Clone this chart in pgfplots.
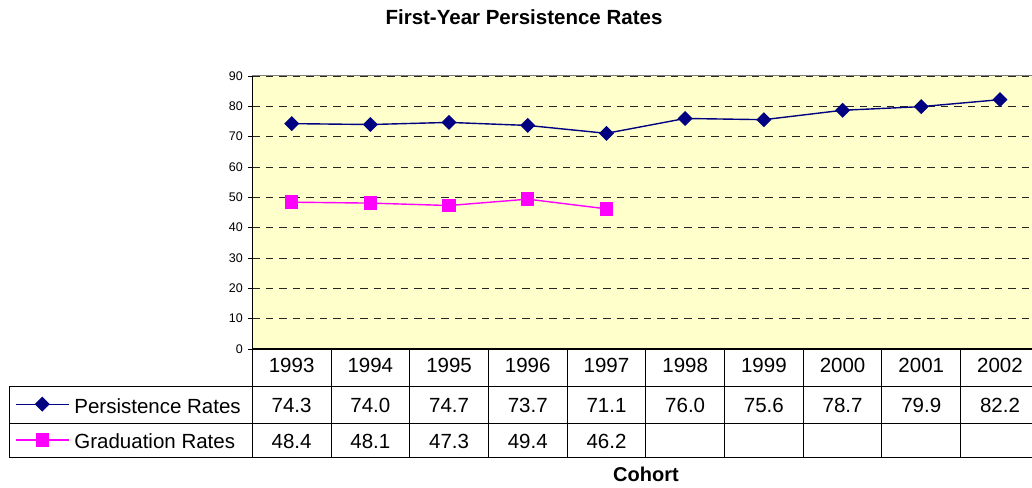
\documentclass[border=0pt]{standalone}
\usepackage{pgfplots}
\pgfplotsset{compat=1.18}
\usepackage{pgfplotstable}
\usepackage{fontspec}
\setmainfont{Liberation Sans}
\definecolor{navyp}{RGB}{0,0,128}
\definecolor{magp}{RGB}{255,0,255}
\definecolor{bgy}{RGB}{255,255,204}
\newcommand{\tablefont}{\fontsize{20.5}{24}\selectfont}

\pgfplotstableread{
x   year pers
0.5 1993 74.3
1.5 1994 74.0
2.5 1995 74.7
3.5 1996 73.7
4.5 1997 71.1
5.5 1998 76.0
6.5 1999 75.6
7.5 2000 78.7
8.5 2001 79.9
9.5 2002 82.2
}\perstable

\pgfplotstableread{
x   grad
0.5 48.4
1.5 48.1
2.5 47.3
3.5 49.4
4.5 46.2
}\gradtable

\begin{document}
\begin{tikzpicture}[x=1pt,y=1pt]
\useasboundingbox (0,0) rectangle (1032,487);
\clip (0,0) rectangle (1032,487);
\begin{axis}[
  at={(252.3pt,138pt)}, anchor=south west,
  scale only axis, width=787pt, height=273pt,
  xmin=0, xmax=10, ymin=0, ymax=90,
  clip=false,
  axis background/.style={fill=bgy},
  axis line style={draw=none},
  xtick=\empty,
  ytick={0,10,...,90},
  ytick pos=left,
  tick align=outside,
  major tick length=4pt,
  y tick style={black, line width=0.8pt},
  /pgf/number format/assume math mode=true,
  yticklabel style={font=\fontsize{12.5}{14}\selectfont, xshift=-2pt},
  ymajorgrids,
  major grid style={black!85, dash pattern=on 7.5pt off 6pt, line width=0.8pt},
  legend style={at={(-0.3015,-0.1784)}, anchor=north west, draw=none, fill=none,
    inner sep=0pt, outer sep=0pt, row sep=15.6pt, column sep=5pt, font=\tablefont,
    nodes={inner sep=0pt, text height=15pt, text depth=5pt}},
  legend cell align=left,
  legend image code/.code={\draw[#1, mark repeat=2, mark phase=2] plot coordinates {(0pt,4pt) (26.5pt,4pt) (53pt,4pt)};},
]
\addplot[navyp, line width=1.4pt, mark=square*, mark size=4.6pt, mark options={rotate=45, solid, fill=navyp}]
  table[x=x, y=pers] {\perstable};
\addlegendentry{Persistence Rates}
\addplot[magp, line width=1.4pt, mark=square*, mark size=6pt, mark options={solid, fill=magp}]
  table[x=x, y=grad] {\gradtable};
\addlegendentry{Graduation Rates}

\addplot[forget plot, draw=none, mark=none, nodes near coords, point meta=explicit symbolic,
  every node near coord/.append style={anchor=base, font=\tablefont, text=black}]
  table[x=x, y expr=-7.81, meta=year] {\perstable};
\addplot[forget plot, draw=none, mark=none, nodes near coords, point meta=explicit symbolic,
  every node near coord/.append style={anchor=base, font=\tablefont, text=black}]
  table[x=x, y expr=-21.0, meta=pers] {\perstable};
\addplot[forget plot, draw=none, mark=none, nodes near coords, point meta=explicit symbolic,
  every node near coord/.append style={anchor=base, font=\tablefont, text=black}]
  table[x=x, y expr=-32.74, meta=grad] {\gradtable};

\draw[gray, line width=1pt] (rel axis cs:0,1) -- (rel axis cs:1,1);
\draw[black, line width=0.8pt] (rel axis cs:0,0) -- (rel axis cs:0,1);
\end{axis}

% data table grid
\draw[black, line width=1.5pt] (252.3,138) -- (1040,138);
\draw[black, line width=0.9pt] (9,100.3) -- (1040,100.3);
\draw[black, line width=0.9pt] (9,63.7) -- (1040,63.7);
\draw[black, line width=0.9pt] (9,30) -- (1040,30);
\draw[black, line width=0.9pt] (9,100.3) -- (9,30);
\foreach \k in {0,...,10} {
  \draw[black, line width=0.9pt] (252.3+\k*78.7,138) -- (252.3+\k*78.7,30);
}

\node[anchor=base, font=\fontsize{20.5}{24}\selectfont\bfseries] at (524,462) {First-Year Persistence Rates};
\node[anchor=base, font=\fontsize{20}{24}\selectfont\bfseries] at (646,5.3) {Cohort};
\end{tikzpicture}
\end{document}
